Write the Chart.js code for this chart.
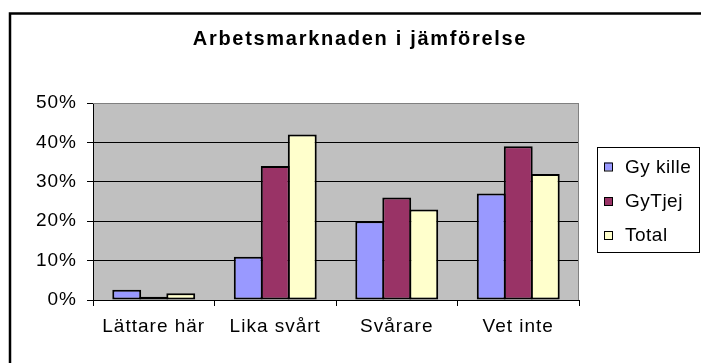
<!DOCTYPE html>
<html lang="sv">
<head>
<meta charset="utf-8">
<title>Arbetsmarknaden i jämförelse</title>
<script src="https://cdn.jsdelivr.net/npm/chart.js@4.4.1/dist/chart.umd.min.js"></script>
<style>
  html, body { margin: 0; padding: 0; background: #fff; }
  canvas { display: block; }
</style>
</head>
<body>
<canvas id="jamforelse" width="701" height="363"></canvas>
<script>
// Data (procent)
const kategorier = ['Lättare här', 'Lika svårt', 'Svårare', 'Vet inte'];
const gyKille = [2.6, 11, 20, 27];
const gyTjej = [0.8, 34, 26, 39];
const total = [1.7, 42, 23, 32];
const yTicks = [0, 10, 20, 30, 40, 50];
const rubrik = 'Arbetsmarknaden i jämförelse';

const FONT = '"Liberation Sans", Arial, sans-serif';

// Grå plottyta, ram, rubrik och förklaring ritas för hand
const excelStil = {
    id: 'excelStil',
    beforeDraw(chart) {
        const { ctx, chartArea: a } = chart;
        ctx.save();
        ctx.fillStyle = '#fff';
        ctx.fillRect(0, 0, chart.width, chart.height);
        ctx.fillStyle = '#c0c0c0';
        ctx.fillRect(a.left, a.top, a.right - a.left, a.bottom - a.top);
        ctx.restore();
        // lite bredare text, som i Excel
        ctx.letterSpacing = '1px';
    },
    afterDraw(chart) {
        const { ctx, chartArea: a } = chart;
        ctx.save();

        // grå kant upptill och till höger
        ctx.strokeStyle = '#808080';
        ctx.lineWidth = 1;
        ctx.beginPath();
        ctx.moveTo(a.left, a.top + 0.5);
        ctx.lineTo(a.right - 0.5, a.top + 0.5);
        ctx.lineTo(a.right - 0.5, a.bottom);
        ctx.stroke();

        // yttre ram
        ctx.strokeStyle = '#000';
        ctx.lineWidth = 2.5;
        ctx.strokeRect(10, 13.5, chart.width + 20, chart.height + 20);

        // rubrik
        ctx.fillStyle = '#000';
        ctx.font = 'bold 20px ' + FONT;
        ctx.letterSpacing = '1.7px';
        ctx.textAlign = 'center';
        ctx.textBaseline = 'middle';
        ctx.fillText(rubrik, 360, 39);

        // förklaring
        ctx.lineWidth = 1;
        ctx.strokeRect(597.5, 147.5, 102, 105);
        const rader = [166.5, 201, 235];
        ctx.font = '19px ' + FONT;
        ctx.letterSpacing = '0.5px';
        ctx.textAlign = 'left';
        chart.data.datasets.forEach((ds, i) => {
            ctx.fillStyle = ds.backgroundColor;
            ctx.fillRect(604, rader[i] - 4, 8, 8);
            ctx.strokeRect(604.5, rader[i] - 3.5, 8, 8);
            ctx.fillStyle = '#000';
            ctx.fillText(ds.label, 625, rader[i] + 1);
        });
        ctx.restore();
        ctx.letterSpacing = '0px';
    }
};

const dataset = (label, data, color) => ({
    label: label,
    data: data,
    backgroundColor: color,
    borderColor: '#000',
    borderWidth: 2,
    borderSkipped: false,
    categoryPercentage: 0.667,
    barPercentage: 1.07
});

const ctx = document.getElementById('jamforelse').getContext('2d');
const chart = new Chart(ctx, {
    type: 'bar',
    data: {
        labels: kategorier,
        datasets: [
            dataset('Gy kille', gyKille, '#9999ff'),
            dataset('GyTjej', gyTjej, '#993366'),
            dataset('Total', total, '#ffffcc')
        ]
    },
    options: {
        responsive: false,
        animation: false,
        devicePixelRatio: 1,
        layout: { padding: { top: 103, right: 122, bottom: 0, left: 0 } },
        plugins: {
            legend: { display: false },
            title: { display: false },
            tooltip: { enabled: false }
        },
        scales: {
            x: {
                grid: { drawOnChartArea: false, tickLength: 6, color: '#000', offset: true },
                border: { color: '#000', width: 1 },
                ticks: {
                    color: '#000',
                    font: { family: FONT, size: 19 },
                    padding: 9,
                    maxRotation: 0,
                    autoSkip: false
                },
                afterFit(scale) { scale.height = 63; }
            },
            y: {
                min: 0,
                max: 50,
                afterBuildTicks(scale) { scale.ticks = yTicks.map(v => ({ value: v })); },
                grid: {
                    color: c => (c.tick && c.tick.value === 50) ? '#808080' : '#000',
                    tickColor: '#000',
                    tickLength: 6
                },
                border: { color: '#000', width: 1 },
                ticks: {
                    color: '#000',
                    font: { family: FONT, size: 19 },
                    padding: 10,
                    callback: v => v + '%'
                },
                afterFit(scale) { scale.width = 93; }
            }
        }
    },
    plugins: [excelStil]
});
</script>
</body>
</html>
